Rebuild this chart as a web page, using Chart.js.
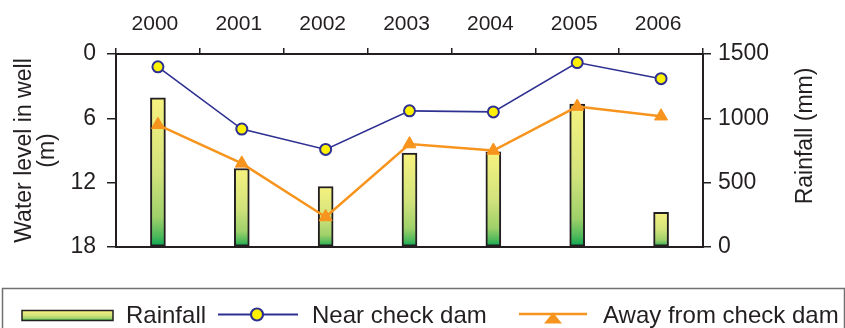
<!DOCTYPE html>
<html>
<head>
<meta charset="utf-8">
<title>Rainfall and water level in wells</title>
<script src="https://cdn.jsdelivr.net/npm/chart.js@4/dist/chart.umd.min.js"></script>
<style>
  html, body { margin: 0; padding: 0; background: #ffffff; }
  canvas { display: block; }
</style>
</head>
<body>
<canvas id="chart" width="845" height="328"></canvas>
<script>
// ---- data ----
const years = ['2000', '2001', '2002', '2003', '2004', '2005', '2006'];
const rainfallMm = [1160, 610, 470, 730, 740, 1110, 270];
const nearCheckDam = [1.2, 7.0, 8.9, 5.3, 5.4, 0.8, 2.3];
const awayFromCheckDam = [6.6, 10.2, 15.2, 8.4, 9.0, 4.9, 5.8];
const waterLevelTicks = [0, 6, 12, 18];
const rainfallTicks = [0, 500, 1000, 1500];
const seriesNames = ['Rainfall', 'Near check dam', 'Away from check dam'];
const leftAxisTitle = ['Water level in well', '(m)'];
const rightAxisTitle = 'Rainfall (mm)';

// ---- styles ----
const INK = '#231f20';
const BLUE = '#2e3192';
const YELLOW = '#fff200';
const ORANGE = '#f7941d';
const FONT = '"Liberation Sans", Arial, Helvetica, sans-serif';

Chart.defaults.font.family = FONT;
Chart.defaults.color = INK;

// vertical yellow-to-green fill between two pixel rows
function rainGradient(ctx, yTop, yBottom) {
  const g = ctx.createLinearGradient(0, yTop, 0, yBottom);
  g.addColorStop(0.0, '#f7f27f');
  g.addColorStop(0.5, '#d2e37c');
  g.addColorStop(0.8, '#9fd06a');
  g.addColorStop(0.93, '#4bb85a');
  g.addColorStop(1.0, '#00a651');
  return g;
}

function barFill(context) {
  if (context.type !== 'data') return '#d2e37c';
  const chart = context.chart;
  const scale = chart.scales.y1;
  const top = scale.getPixelForValue(context.raw);
  const base = scale.getPixelForValue(0);
  if (!isFinite(top) || !isFinite(base) || top === base) return '#d2e37c';
  return rainGradient(chart.ctx, top, base);
}

// right-hand title (reads bottom to top), legend row and its frame
const decorations = {
  id: 'decorations',
  afterDraw(chart, args, opts) {
    const ctx = chart.ctx;
    const ds = chart.data.datasets;
    ctx.save();

    // legend frame
    ctx.strokeStyle = '#707070';
    ctx.lineWidth = 1.5;
    ctx.strokeRect(opts.frame.x, opts.frame.y, opts.frame.w, opts.frame.h);

    // right axis title
    ctx.save();
    ctx.fillStyle = INK;
    ctx.font = opts.titleFont;
    ctx.textAlign = 'center';
    ctx.textBaseline = 'middle';
    ctx.translate(opts.rightTitle.x, opts.rightTitle.y);
    ctx.rotate(-Math.PI / 2);
    ctx.fillText(rightAxisTitle, 0, 0);
    ctx.restore();

    // legend entries
    const L = opts.legend;
    const y = L.y;
    ctx.font = opts.legendFont;
    ctx.fillStyle = INK;
    ctx.textAlign = 'left';
    ctx.textBaseline = 'alphabetic';

    // rainfall swatch
    const s0 = L.items[0];
    ctx.fillStyle = rainGradient(ctx, y - 5, y + 5);
    ctx.fillRect(s0.x0, y - 5, s0.x1 - s0.x0, 10);
    ctx.strokeStyle = INK;
    ctx.lineWidth = 1.5;
    ctx.strokeRect(s0.x0, y - 5, s0.x1 - s0.x0, 10);
    ctx.fillStyle = INK;
    ctx.fillText(ds[0].label, s0.text, L.baseline);

    // near check dam: line with circle
    const s1 = L.items[1];
    ctx.strokeStyle = ds[1].borderColor;
    ctx.lineWidth = 2;
    ctx.beginPath();
    ctx.moveTo(s1.x0, y - 1);
    ctx.lineTo(s1.x1, y - 1);
    ctx.stroke();
    ctx.beginPath();
    ctx.arc(s1.marker, y - 1, 6, 0, Math.PI * 2);
    ctx.fillStyle = ds[1].pointBackgroundColor;
    ctx.fill();
    ctx.lineWidth = 2.2;
    ctx.stroke();
    ctx.fillStyle = INK;
    ctx.fillText(ds[1].label, s1.text, L.baseline);

    // away from check dam: line with triangle
    const s2 = L.items[2];
    ctx.strokeStyle = ds[2].borderColor;
    ctx.lineWidth = 2.5;
    ctx.beginPath();
    ctx.moveTo(s2.x0, y - 1.5);
    ctx.lineTo(s2.x1, y - 1.5);
    ctx.stroke();
    ctx.beginPath();
    ctx.moveTo(s2.marker, y - 3);
    ctx.lineTo(s2.marker + 9, y + 8);
    ctx.lineTo(s2.marker - 9, y + 8);
    ctx.closePath();
    ctx.fillStyle = ds[2].pointBackgroundColor;
    ctx.fill();
    ctx.fillStyle = INK;
    ctx.fillText(ds[2].label, s2.text, L.baseline);

    ctx.restore();
  }
};

const tickStyle = { color: INK, lineWidth: 1.5, drawOnChartArea: false, drawTicks: true };
const borderStyle = { display: true, color: INK, width: 2 };
const plainNumber = (v) => String(v);

new Chart(document.getElementById('chart'), {
  type: 'bar',
  data: {
    labels: years,
    datasets: [
      {
        type: 'bar',
        label: seriesNames[0],
        data: rainfallMm,
        yAxisID: 'y1',
        xAxisID: 'x',
        order: 3,
        backgroundColor: barFill,
        borderColor: INK,
        borderWidth: 2,
        borderSkipped: false,
        barThickness: 15
      },
      {
        type: 'line',
        label: seriesNames[1],
        data: nearCheckDam,
        yAxisID: 'y',
        xAxisID: 'x',
        order: 2,
        borderColor: BLUE,
        borderWidth: 1.6,
        tension: 0,
        pointStyle: 'circle',
        pointRadius: 5.5,
        pointBorderWidth: 2,
        pointBackgroundColor: YELLOW,
        pointBorderColor: BLUE
      },
      {
        type: 'line',
        label: seriesNames[2],
        data: awayFromCheckDam,
        yAxisID: 'y',
        xAxisID: 'x',
        order: 1,
        borderColor: ORANGE,
        borderWidth: 2.5,
        tension: 0,
        pointStyle: 'triangle',
        pointRadius: 7.5,
        pointBorderWidth: 1,
        pointBackgroundColor: ORANGE,
        pointBorderColor: ORANGE
      }
    ]
  },
  options: {
    responsive: false,
    animation: false,
    devicePixelRatio: 1,
    layout: { padding: { left: 0, right: 0, top: 0, bottom: 81 } },
    plugins: {
      legend: { display: false },
      tooltip: { enabled: false },
      decorations: {
        frame: { x: 2.5, y: 288.5, w: 842, h: 60 },
        titleFont: '23px ' + FONT,
        legendFont: '24px ' + FONT,
        rightTitle: { x: 806, y: 136 },
        legend: {
          y: 315.5,
          baseline: 322.5,
          items: [
            { x0: 22, x1: 113, text: 126 },
            { x0: 218, x1: 298, marker: 257, text: 312 },
            { x0: 519, x1: 587, marker: 553, text: 603 }
          ]
        }
      }
    },
    scales: {
      x: {
        type: 'category',
        position: 'top',
        offset: true,
        grid: Object.assign({}, tickStyle, { offset: true, tickLength: 6 }),
        border: borderStyle,
        ticks: { font: { size: 21 }, color: INK, padding: 11, labelOffset: -3, maxRotation: 0, autoSkip: false },
        afterFit: (s) => { s.height = 54; }
      },
      xBottom: {
        type: 'category',
        position: 'bottom',
        offset: true,
        grid: { display: false },
        border: borderStyle,
        ticks: { display: false },
        afterFit: (s) => { s.height = 0; }
      },
      y: {
        type: 'linear',
        position: 'left',
        reverse: true,
        min: waterLevelTicks[0],
        max: waterLevelTicks[waterLevelTicks.length - 1],
        afterBuildTicks: (s) => { s.ticks = waterLevelTicks.map(v => ({ value: v })); },
        grid: Object.assign({}, tickStyle, { tickLength: 9 }),
        border: borderStyle,
        ticks: { font: { size: 23 }, color: INK, padding: 11, callback: plainNumber },
        title: {
          display: true,
          text: leftAxisTitle,
          color: INK,
          font: { size: 23, lineHeight: 1.0 },
          padding: { top: 13, bottom: 0 }
        },
        afterFit: (s) => { s.width = 116; }
      },
      y1: {
        type: 'linear',
        position: 'right',
        min: rainfallTicks[0],
        max: rainfallTicks[rainfallTicks.length - 1],
        afterBuildTicks: (s) => { s.ticks = rainfallTicks.map(v => ({ value: v })); },
        grid: Object.assign({}, tickStyle, { tickLength: 8 }),
        border: borderStyle,
        ticks: { font: { size: 23 }, color: INK, padding: 7, callback: plainNumber },
        afterFit: (s) => { s.width = 142; }
      }
    }
  },
  plugins: [decorations]
});
</script>
</body>
</html>
